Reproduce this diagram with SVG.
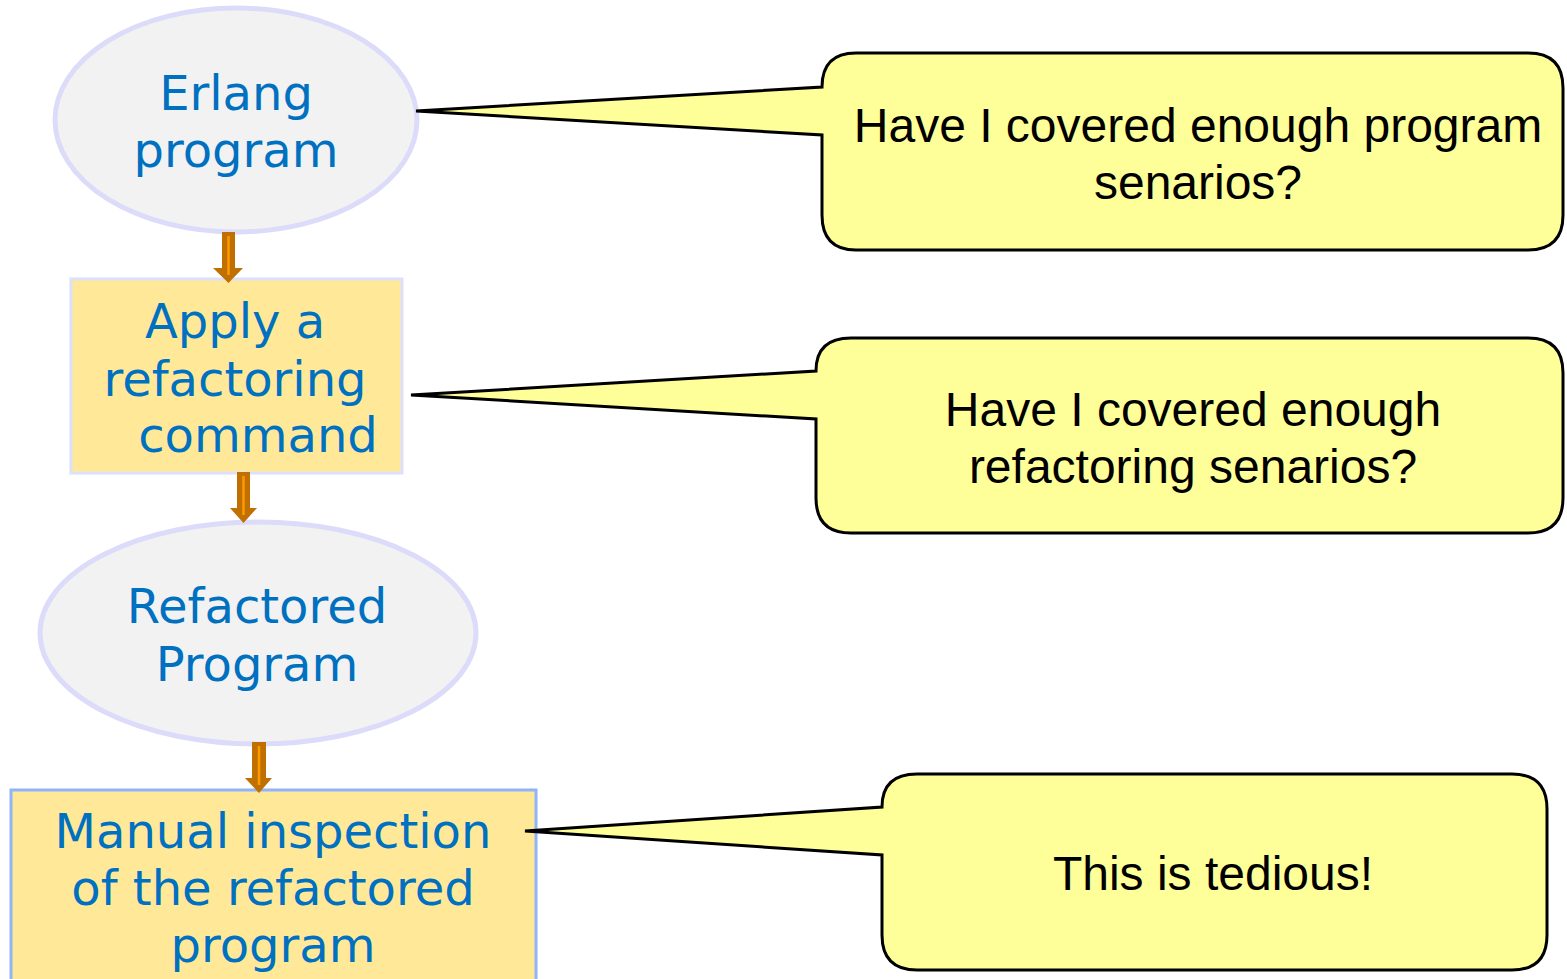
<svg xmlns="http://www.w3.org/2000/svg" width="1567" height="979" viewBox="0 0 1567 979">
<style>
.node{font-family:"DejaVu Sans",Verdana,sans-serif;font-size:48px;fill:#0070c0;text-anchor:middle}
.call{font-family:"Liberation Sans",Arial,sans-serif;font-size:48px;fill:#000;text-anchor:middle}
.ell{fill:#f2f2f2;stroke:#dcdcfa;stroke-width:5}
.box{fill:#ffe999;stroke:#dde0fb;stroke-width:3}
.bubble{fill:#ffff99;stroke:#000;stroke-width:3;stroke-linejoin:miter}
.arr{fill:#c07000}
.arrin{stroke:#ff9900;stroke-width:2.5}
</style>
<rect width="1567" height="979" fill="#fff"/>
<g id="node-erlang">
  <ellipse class="ell" cx="236" cy="120" rx="181" ry="112"/>
  <text class="node" x="236" y="110">Erlang</text>
  <text class="node" x="236" y="167">program</text>
</g>
<g id="node-apply">
  <rect class="box" x="71" y="279" width="331" height="194"/>
  <text class="node" x="235" y="338">Apply a</text>
  <text class="node" x="235" y="396">refactoring</text>
  <text class="node" x="258" y="452">command</text>
</g>
<g id="node-refactored">
  <ellipse class="ell" cx="258" cy="633" rx="218" ry="111"/>
  <text class="node" x="257" y="623">Refactored</text>
  <text class="node" x="257" y="681">Program</text>
</g>
<g id="node-manual">
  <rect x="11" y="790" width="525" height="200" fill="#ffe999" stroke="#8fb4f7" stroke-width="3"/>
  <text class="node" x="273" y="848">Manual inspection</text>
  <text class="node" x="273" y="905">of the refactored</text>
  <text class="node" x="273" y="962">program</text>
</g>
<g id="connectors">
  <g id="arrow1">
    <path class="arr" d="M222,232 H235 V268 H243 L228.5,283 L213,268 H222 Z"/>
    <line class="arrin" x1="228.5" y1="236" x2="228.5" y2="275"/>
  </g>
  <g id="arrow2">
    <path class="arr" d="M237,472 H250 V508 H257 L243.5,523 L230,508 H237 Z"/>
    <line class="arrin" x1="243.5" y1="476" x2="243.5" y2="515"/>
  </g>
  <g id="arrow3">
    <path class="arr" d="M252,742 H266 V778 H272 L259,793 L245,778 H252 Z"/>
    <line class="arrin" x1="259" y1="746" x2="259" y2="785"/>
  </g>
</g>
<g id="callout1">
  <path class="bubble" d="M856,53 H1528 Q1563,53 1563,88 V215 Q1563,250 1528,250 H856 Q822,250 822,215 V135 L416,111 L822,87 Q822,53 856,53 Z"/>
  <text class="call" x="1198" y="142">Have I covered enough program</text>
  <text class="call" x="1198" y="199">senarios?</text>
</g>
<g id="callout2">
  <path class="bubble" d="M851,338 H1528 Q1563,338 1563,373 V498 Q1563,533 1528,533 H851 Q816,533 816,498 V419 L411,395 L816,371 Q816,338 851,338 Z"/>
  <text class="call" x="1193" y="426">Have I covered enough</text>
  <text class="call" x="1193" y="483">refactoring senarios?</text>
</g>
<g id="callout3">
  <path class="bubble" d="M917,774 H1512 Q1547,774 1547,809 V935 Q1547,970 1512,970 H917 Q882,970 882,935 V855 L525,831 L882,807 Q882,774 917,774 Z"/>
  <text class="call" x="1213" y="890">This is tedious!</text>
</g>
</svg>
